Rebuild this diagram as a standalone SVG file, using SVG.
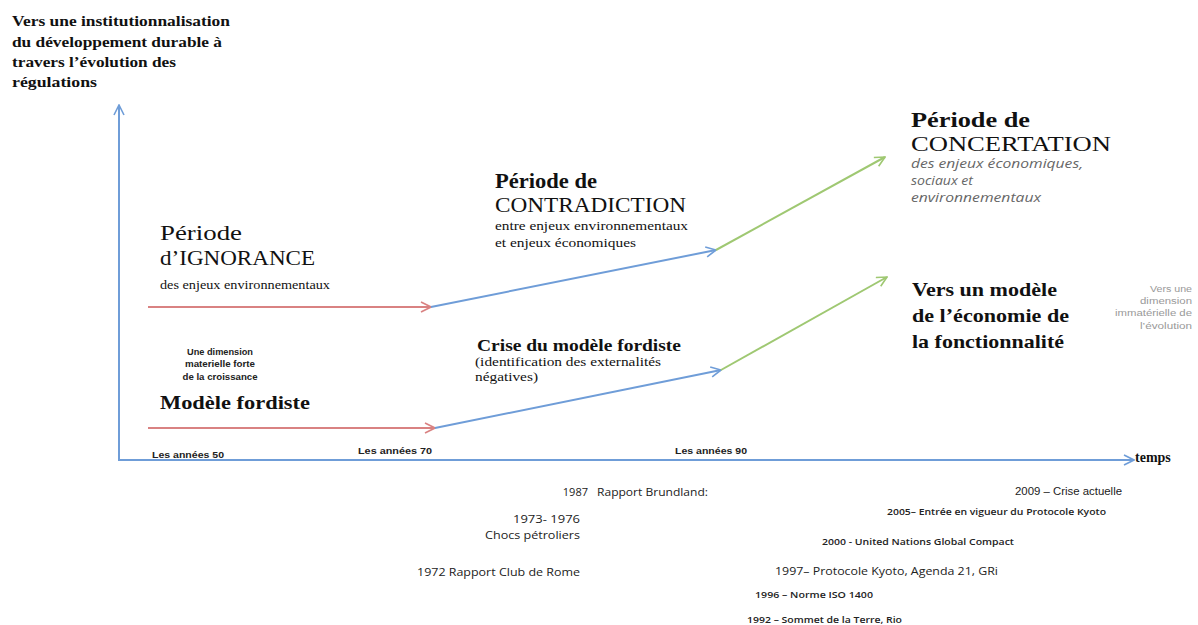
<svg xmlns="http://www.w3.org/2000/svg" width="1198" height="625" viewBox="0 0 1198 625">
<defs>
<style>
.serif{font-family:"Liberation Serif","DejaVu Serif",serif;fill:#111}
.b{font-weight:bold}
.sans{font-family:"Liberation Sans","DejaVu Sans",sans-serif;fill:#222}
.cal{font-family:"Open Sans","Liberation Sans",sans-serif;fill:#222}
.grey{fill:#666}
.lgrey{font-family:"Liberation Sans","DejaVu Sans",sans-serif;fill:#999}
.red{stroke:#d98282;stroke-width:2;fill:none}
.blue{stroke:#6f9dd8;stroke-width:2;fill:none}
.green{stroke:#9fc872;stroke-width:2;fill:none}
</style>
<marker id="ar" viewBox="0 0 12 12" refX="11" refY="6" markerWidth="12" markerHeight="12" markerUnits="userSpaceOnUse" orient="auto"><path d="M1,1 L11,6 L1,11" fill="none" stroke="#d98282" stroke-width="1.6"/></marker>
<marker id="ab" viewBox="0 0 12 12" refX="11" refY="6" markerWidth="12" markerHeight="12" markerUnits="userSpaceOnUse" orient="auto"><path d="M1,1 L11,6 L1,11" fill="none" stroke="#6f9dd8" stroke-width="1.6"/></marker>
<marker id="ag" viewBox="0 0 12 12" refX="11" refY="6" markerWidth="12" markerHeight="12" markerUnits="userSpaceOnUse" orient="auto"><path d="M1,1 L11,6 L1,11" fill="none" stroke="#9fc872" stroke-width="1.6"/></marker>
</defs>
<rect width="1198" height="625" fill="#fff"/>

<g id="connectors">
<line class="blue" x1="119" y1="461" x2="119" y2="105" marker-end="url(#ab)"/>
<line class="blue" x1="118" y1="460" x2="1134" y2="460" marker-end="url(#ab)"/>
<line class="red" x1="148" y1="307" x2="431" y2="307" marker-end="url(#ar)"/>
<line class="blue" x1="431" y1="307" x2="716" y2="250" marker-end="url(#ab)"/>
<line class="green" x1="716" y1="250" x2="885" y2="157" marker-end="url(#ag)"/>
<line class="red" x1="148" y1="428" x2="435" y2="428" marker-end="url(#ar)"/>
<line class="blue" x1="435" y1="428" x2="721" y2="370" marker-end="url(#ab)"/>
<line class="green" x1="721" y1="370" x2="887" y2="277" marker-end="url(#ag)"/>
</g>

<g id="title">
<text class="serif b" font-size="15.5" x="12" y="26" textLength="218" lengthAdjust="spacingAndGlyphs">Vers une institutionnalisation</text>
<text class="serif b" font-size="15.5" x="12" y="47" textLength="210" lengthAdjust="spacingAndGlyphs">du développement durable à</text>
<text class="serif b" font-size="15.5" x="12" y="67" textLength="164" lengthAdjust="spacingAndGlyphs">travers l’évolution des</text>
<text class="serif b" font-size="15.5" x="12" y="87" textLength="85" lengthAdjust="spacingAndGlyphs">régulations</text>
</g>

<g id="ignorance">
<text class="serif" font-size="20" x="160" y="240" textLength="82" lengthAdjust="spacingAndGlyphs">Période</text>
<text class="serif" font-size="20" x="160" y="265" textLength="155" lengthAdjust="spacingAndGlyphs">d’IGNORANCE</text>
<text class="serif" font-size="11.5" x="160" y="289" textLength="170" lengthAdjust="spacingAndGlyphs">des enjeux environnementaux</text>
</g>

<g id="fordiste">
<text class="sans b" font-size="8.5" x="220" y="355" text-anchor="middle" textLength="66" lengthAdjust="spacingAndGlyphs">Une dimension</text>
<text class="sans b" font-size="8.5" x="220" y="367" text-anchor="middle" textLength="70" lengthAdjust="spacingAndGlyphs">materielle forte</text>
<text class="sans b" font-size="8.5" x="220" y="380" text-anchor="middle" textLength="75" lengthAdjust="spacingAndGlyphs">de la croissance</text>
<text class="serif" font-size="19" x="160" y="409" font-weight="bold" textLength="150" lengthAdjust="spacingAndGlyphs">Modèle fordiste</text>
</g>

<g id="contradiction">
<text class="serif b" font-size="20" x="495" y="188" textLength="102" lengthAdjust="spacingAndGlyphs">Période de</text>
<text class="serif" font-size="20" x="495" y="212" textLength="191" lengthAdjust="spacingAndGlyphs">CONTRADICTION</text>
<text class="serif" font-size="12" x="495" y="230" textLength="193" lengthAdjust="spacingAndGlyphs">entre enjeux environnementaux</text>
<text class="serif" font-size="12" x="495" y="247" textLength="141" lengthAdjust="spacingAndGlyphs">et enjeux économiques</text>
</g>

<g id="crise">
<text class="serif b" font-size="16" x="477" y="351" textLength="204" lengthAdjust="spacingAndGlyphs">Crise du modèle fordiste</text>
<text class="serif" font-size="13" x="475" y="366" textLength="186" lengthAdjust="spacingAndGlyphs">(identification des externalités</text>
<text class="serif" font-size="13" x="475" y="381" textLength="63" lengthAdjust="spacingAndGlyphs">négatives)</text>
</g>

<g id="concertation">
<text class="serif b" font-size="21" x="911" y="127" textLength="119" lengthAdjust="spacingAndGlyphs">Période de</text>
<text class="serif" font-size="22" x="911" y="151" textLength="200" lengthAdjust="spacingAndGlyphs">CONCERTATION</text>
<text class="cal grey" font-size="12" font-style="italic" x="911" y="168" textLength="172" lengthAdjust="spacingAndGlyphs">des enjeux économiques,</text>
<text class="cal grey" font-size="12" font-style="italic" x="911" y="185" textLength="62" lengthAdjust="spacingAndGlyphs">sociaux et</text>
<text class="cal grey" font-size="12" font-style="italic" x="911" y="202" textLength="130" lengthAdjust="spacingAndGlyphs">environnementaux</text>
</g>

<g id="fonctionnalite">
<text class="serif b" font-size="19" x="912" y="296" textLength="145" lengthAdjust="spacingAndGlyphs">Vers un modèle</text>
<text class="serif b" font-size="19" x="912" y="322" textLength="157" lengthAdjust="spacingAndGlyphs">de l’économie de</text>
<text class="serif b" font-size="19" x="912" y="348" textLength="152" lengthAdjust="spacingAndGlyphs">la fonctionnalité</text>
</g>

<g id="immaterielle">
<text class="lgrey" font-size="8.5" x="1192" y="292" text-anchor="end" textLength="42" lengthAdjust="spacingAndGlyphs">Vers une</text>
<text class="lgrey" font-size="8.5" x="1192" y="304" text-anchor="end" textLength="52" lengthAdjust="spacingAndGlyphs">dimension</text>
<text class="lgrey" font-size="8.5" x="1192" y="316" text-anchor="end" textLength="77" lengthAdjust="spacingAndGlyphs">immatérielle de</text>
<text class="lgrey" font-size="8.5" x="1192" y="329" text-anchor="end" textLength="52" lengthAdjust="spacingAndGlyphs">l’évolution</text>
</g>

<g id="axis-labels">
<text class="sans b" font-size="9" x="152" y="458" textLength="72" lengthAdjust="spacingAndGlyphs">Les années 50</text>
<text class="sans b" font-size="9" x="358" y="454" textLength="74" lengthAdjust="spacingAndGlyphs">Les années 70</text>
<text class="sans b" font-size="9" x="675" y="454" textLength="72" lengthAdjust="spacingAndGlyphs">Les années 90</text>
<text class="serif b" font-size="14" x="1135" y="462">temps</text>
</g>

<g id="events">
<text class="cal" font-size="11" x="588" y="496" text-anchor="end">1987</text>
<text class="cal" font-size="11" x="597" y="496" textLength="111" lengthAdjust="spacingAndGlyphs">Rapport Brundland:</text>
<text class="cal" font-size="11" x="580" y="523" text-anchor="end" textLength="67" lengthAdjust="spacingAndGlyphs">1973- 1976</text>
<text class="cal" font-size="11" x="580" y="539" text-anchor="end" textLength="95" lengthAdjust="spacingAndGlyphs">Chocs pétroliers</text>
<text class="cal" font-size="11" x="417" y="576" textLength="163" lengthAdjust="spacingAndGlyphs">1972 Rapport Club de Rome</text>
<text class="sans" font-size="10" x="1015" y="495" textLength="107" lengthAdjust="spacingAndGlyphs">2009 – Crise actuelle</text>
<text class="cal" font-size="9" font-weight="600" x="887" y="515" textLength="219" lengthAdjust="spacingAndGlyphs">2005– Entrée en vigueur du Protocole Kyoto</text>
<text class="cal" font-size="9" font-weight="600" x="822" y="545" textLength="192" lengthAdjust="spacingAndGlyphs">2000 -  United Nations Global Compact</text>
<text class="cal" font-size="11" x="775" y="575" textLength="223" lengthAdjust="spacingAndGlyphs">1997– Protocole Kyoto, Agenda 21, GRi</text>
<text class="cal" font-size="9" font-weight="600" x="755" y="598" textLength="118" lengthAdjust="spacingAndGlyphs">1996 – Norme ISO 1400</text>
<text class="cal" font-size="9" font-weight="600" x="747" y="623" textLength="155" lengthAdjust="spacingAndGlyphs">1992 – Sommet de la Terre, Rio</text>
</g>
</svg>
